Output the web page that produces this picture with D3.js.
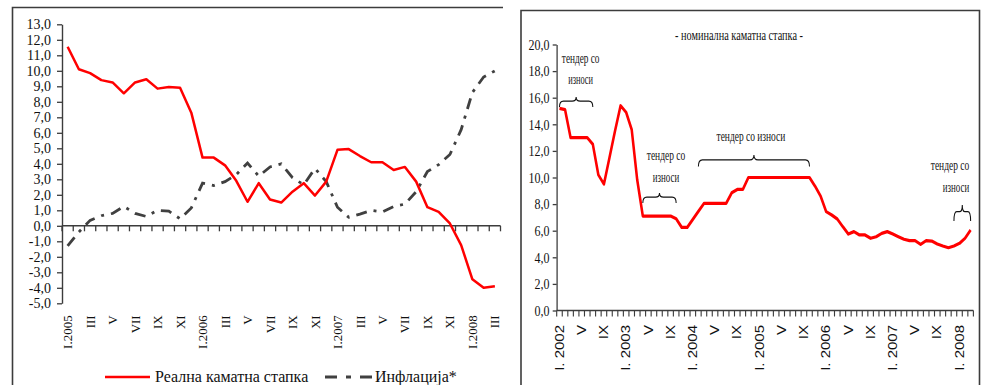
<!DOCTYPE html>
<html><head><meta charset="utf-8">
<script src="https://cdn.jsdelivr.net/npm/d3@7/dist/d3.min.js"></script>
<style>
html,body{margin:0;padding:0;background:#fff;}
svg{display:block;}
</style></head>
<body>
<svg id="chart" width="986" height="385"></svg>
<script>
// ---------------- DATA ----------------
// Left chart: months I.2005 – III.2008
const leftCategories = [
  "I.2005","II.2005","III.2005","IV.2005","V.2005","VI.2005","VII.2005","VIII.2005","IX.2005","X.2005","XI.2005","XII.2005",
  "I.2006","II.2006","III.2006","IV.2006","V.2006","VI.2006","VII.2006","VIII.2006","IX.2006","X.2006","XI.2006","XII.2006",
  "I.2007","II.2007","III.2007","IV.2007","V.2007","VI.2007","VII.2007","VIII.2007","IX.2007","X.2007","XI.2007","XII.2007",
  "I.2008","II.2008","III.2008"
];
const leftTickLabels = ["I.2005","III","V","VII","IX","XI","I.2006","III","V","VII","IX","XI",
  "I.2007","III","V","VII","IX","XI","I.2008","III"];
const realRate = [
  11.55, 10.1, 9.85, 9.4, 9.25, 8.55, 9.25, 9.45, 8.85, 8.95, 8.9, 7.3,
  4.4, 4.4, 3.9, 2.9, 1.55, 2.75, 1.7, 1.5, 2.2, 2.75, 1.95, 2.85,
  4.9, 4.95, 4.5, 4.1, 4.1, 3.6, 3.8, 2.85, 1.2, 0.9, 0.15, -1.25,
  -3.45, -4.0, -3.9
];
const inflation = [
  -1.3, -0.4, 0.35, 0.65, 0.8, 1.25, 0.8, 0.6, 1.0, 0.95, 0.45, 1.15,
  2.75, 2.6, 2.85, 3.3, 4.05, 3.2, 3.8, 4.0, 3.1, 2.65, 3.7, 2.85,
  1.2, 0.55, 0.75, 1.0, 0.9, 1.25, 1.4, 2.2, 3.5, 3.95, 4.6, 6.2,
  8.6, 9.6, 10.0
];
const leftYTicks = [-5,-4,-3,-2,-1,0,1,2,3,4,5,6,7,8,9,10,11,12,13];
const leftSeriesNames = ["Реална каматна стапка", "Инфлација*"];

// Right chart: months I.2002 – III.2008
const rightCategories = [
  "I.2002","II.2002","III.2002","IV.2002","V.2002","VI.2002","VII.2002","VIII.2002","IX.2002","X.2002","XI.2002","XII.2002",
  "I.2003","II.2003","III.2003","IV.2003","V.2003","VI.2003","VII.2003","VIII.2003","IX.2003","X.2003","XI.2003","XII.2003",
  "I.2004","II.2004","III.2004","IV.2004","V.2004","VI.2004","VII.2004","VIII.2004","IX.2004","X.2004","XI.2004","XII.2004",
  "I.2005","II.2005","III.2005","IV.2005","V.2005","VI.2005","VII.2005","VIII.2005","IX.2005","X.2005","XI.2005","XII.2005",
  "I.2006","II.2006","III.2006","IV.2006","V.2006","VI.2006","VII.2006","VIII.2006","IX.2006","X.2006","XI.2006","XII.2006",
  "I.2007","II.2007","III.2007","IV.2007","V.2007","VI.2007","VII.2007","VIII.2007","IX.2007","X.2007","XI.2007","XII.2007",
  "I.2008","II.2008","III.2008"
];
const rightTickLabels = ["I. 2002","V","IX","I. 2003","V","IX","I. 2004","V","IX","I. 2005","V","IX",
  "I. 2006","V","IX","I. 2007","V","IX","I. 2008"];
const nominalRate = [
  15.2, 15.1, 13.0, 13.0, 13.0, 13.0, 12.5, 10.2, 9.5, 11.5, 13.5, 15.4,
  14.9, 13.6, 9.8, 7.1, 7.1, 7.1, 7.1, 7.1, 7.1, 6.9, 6.25, 6.25,
  6.85, 7.45, 8.05, 8.05, 8.05, 8.05, 8.05, 8.85, 9.1, 9.1, 10.0, 10.0,
  10.0, 10.0, 10.0, 10.0, 10.0, 10.0, 10.0, 10.0, 10.0, 10.0, 9.35, 8.6,
  7.43, 7.18, 6.88, 6.3, 5.75, 5.93, 5.68, 5.68, 5.43, 5.55, 5.8, 5.93,
  5.75, 5.55, 5.36, 5.25, 5.25, 4.97, 5.25, 5.22, 5.0, 4.85, 4.72, 4.85,
  5.05, 5.43, 6.05
];
const rightYTicks = [0,2,4,6,8,10,12,14,16,18,20];
const rightTitle = "- номинална каматна стапка -";
const tenderAnnotations = [
  {from: "I.2002",  to: "VII.2002", lines: ["тендер со", "износи"]},
  {from: "IV.2003", to: "X.2003",   lines: ["тендер со", "износи"]},
  {from: "II.2004", to: "X.2005",   lines: ["тендер со износи"]},
  {from: "XII.2007",to: "III.2008", lines: ["тендер со", "износи"]}
];

// ---------------- LAYOUT ----------------
const svg = d3.select("#chart");
const AX = "#3c3c3c";
const SERIF = "'Liberation Serif','Times New Roman',serif";
const SANS = "'Liberation Sans',Arial,sans-serif";
const fmt = d => d3.format(".1f")(d).replace(".", ",").replace("\u2212", "-");

// panel frames
svg.append("path").attr("d", "M12.5,392V7.5H503")
  .attr("fill", "none").attr("stroke", AX).attr("stroke-width", 1.6);
svg.append("path").attr("d", "M521,392V10.5H979.5V392")
  .attr("fill", "none").attr("stroke", AX).attr("stroke-width", 1.6);

// ======== LEFT CHART ========
const xL = d3.scaleBand().domain(leftCategories).range([62, 500.5]).padding(0);
const yL = d3.scaleLinear().domain([-5, 13]).range([303.3, 24.3]);
const bwL = xL.bandwidth();
const gL = svg.append("g");

const yAxL = gL.append("g").attr("transform", "translate(62,0)")
  .call(d3.axisLeft(yL).tickValues(leftYTicks).tickFormat(fmt).tickSize(5).tickSizeOuter(0).tickPadding(6));
yAxL.select(".domain").attr("stroke", AX).attr("stroke-width", 1.4);
yAxL.selectAll(".tick line").attr("stroke", AX).attr("stroke-width", 1.3);
yAxL.selectAll("text").attr("font-family", SERIF).attr("font-size", 14).attr("fill", "#111");

// x axis along zero
const y0L = yL(0);
gL.append("line").attr("x1", xL.range()[0]).attr("x2", xL.range()[1])
  .attr("y1", y0L).attr("y2", y0L).attr("stroke", AX).attr("stroke-width", 1.4);
const bndL = leftCategories.map(c => xL(c)).concat([xL.range()[1]]);
gL.selectAll(".xtickL").data(bndL).join("line")
  .attr("x1", d => d).attr("x2", d => d).attr("y1", y0L).attr("y2", y0L + 5.5)
  .attr("stroke", AX).attr("stroke-width", 1.3);
gL.selectAll(".xlabL").data(leftTickLabels).join("text")
  .attr("transform", (d, i) => `translate(${xL(leftCategories[i * 2]) + bwL / 2},${yL(-5) + 12}) rotate(-90)`)
  .attr("text-anchor", "end").attr("dy", "0.35em")
  .attr("font-family", SERIF).attr("font-size", 13).attr("fill", "#111")
  .text(d => d);

const lineL = d3.line().x((d, i) => xL(leftCategories[i]) + bwL / 2).y(d => yL(d));
gL.append("path").datum(inflation).attr("d", lineL)
  .attr("fill", "none").attr("stroke", "#404040").attr("stroke-width", 2.8)
  .attr("stroke-dasharray", "11,7,3,7");
gL.append("path").datum(realRate).attr("d", lineL)
  .attr("fill", "none").attr("stroke", "#ff0000").attr("stroke-width", 2.5)
  .attr("stroke-linejoin", "round");

// legend
gL.append("line").attr("x1", 105).attr("x2", 150).attr("y1", 377).attr("y2", 377)
  .attr("stroke", "#ff0000").attr("stroke-width", 2.5);
gL.append("text").attr("x", 155).attr("y", 382).attr("font-family", SERIF).attr("font-size", 16)
  .attr("fill", "#111").text(leftSeriesNames[0]);
gL.append("line").attr("x1", 325).attr("x2", 372).attr("y1", 377).attr("y2", 377)
  .attr("stroke", "#404040").attr("stroke-width", 3).attr("stroke-dasharray", "12,9,5,9");
gL.append("text").attr("x", 375).attr("y", 382).attr("font-family", SERIF).attr("font-size", 16)
  .attr("fill", "#111").text(leftSeriesNames[1]);

// ======== RIGHT CHART (horizontally condensed) ========
const SX = 0.8;
const gR = svg.append("g").attr("transform", `scale(${SX},1)`);
const xR = d3.scaleBand().domain(rightCategories).range([556.7 / SX, 973.4 / SX]).padding(0);
const yR = d3.scaleLinear().domain([0, 20]).range([310.5, 44.5]);
const bwR = xR.bandwidth();

const yAxR = gR.append("g").attr("transform", `translate(${556.7 / SX},0)`)
  .call(d3.axisLeft(yR).tickValues(rightYTicks).tickFormat(fmt).tickSize(5).tickSizeOuter(0).tickPadding(4));
yAxR.select(".domain").attr("stroke", AX).attr("stroke-width", 1.6);
yAxR.selectAll(".tick line").attr("stroke", AX).attr("stroke-width", 1.3);
yAxR.selectAll("text").attr("font-family", SERIF).attr("font-size", 15).attr("fill", "#111");

const y0R = yR(0);
gR.append("line").attr("x1", xR.range()[0]).attr("x2", xR.range()[1])
  .attr("y1", y0R).attr("y2", y0R).attr("stroke", AX).attr("stroke-width", 1.6);
const bndR = rightCategories.map(c => xR(c)).concat([xR.range()[1]]);
gR.selectAll(".xtickR").data(bndR).join("line")
  .attr("x1", d => d).attr("x2", d => d).attr("y1", y0R).attr("y2", y0R + 6)
  .attr("stroke", AX).attr("stroke-width", 1.4);
gR.selectAll(".xlabR").data(rightTickLabels).join("text")
  .attr("transform", (d, i) => `translate(${xR(rightCategories[i * 4]) + bwR / 2},${y0R + 14.5}) rotate(-90)`)
  .attr("text-anchor", "end").attr("dy", "0.35em")
  .attr("font-family", SANS).attr("font-size", 15).attr("fill", "#111")
  .text(d => d);

const lineR = d3.line().x((d, i) => xR(rightCategories[i]) + bwR / 2).y(d => yR(d));
gR.append("path").datum(nominalRate).attr("d", lineR)
  .attr("fill", "none").attr("stroke", "#ff0000").attr("stroke-width", 3.2)
  .attr("stroke-linejoin", "round");

// title
gR.append("text").attr("x", 739 / SX).attr("y", 40).attr("text-anchor", "middle")
  .attr("font-family", SERIF).attr("font-size", 14).attr("fill", "#111")
  .attr("textLength", 160).attr("lengthAdjust", "spacingAndGlyphs")
  .text(rightTitle);

// annotations (braces + text)
const annLayout = [
  {tip: 97,  end: 107,   dx: [4.5, 4.5],   base: [63, 84],   w: [47, 31]},
  {tip: 193, end: 203,   dx: [6.5, 6.5],   base: [160, 182], w: [48, 33]},
  {tip: 155, end: 166.5, dx: [-3],         base: [141],      w: [86]},
  {tip: 205, end: 221,   dx: [-12.3, -6.3],base: [170, 192], w: [48, 33]}
];
function bracePath(x0, x1, yt, yb) {
  const xc = (x0 + x1) / 2;
  const ym = yt + (yb - yt) * 0.42;
  const r = Math.min(4 / SX, (x1 - x0) / 6);
  return `M${x0},${yb}Q${x0},${ym} ${x0 + r},${ym}L${xc - r},${ym}Q${xc},${ym} ${xc},${yt}` +
         `Q${xc},${ym} ${xc + r},${ym}L${x1 - r},${ym}Q${x1},${ym} ${x1},${yb}`;
}
tenderAnnotations.forEach((a, k) => {
  const L = annLayout[k];
  const x0 = xR(a.from) + bwR / 2, x1 = xR(a.to) + bwR / 2;
  const xc = (x0 + x1) / 2;
  gR.append("path").attr("d", bracePath(x0, x1, L.tip, L.end))
    .attr("fill", "none").attr("stroke", "#111").attr("stroke-width", 1.3);
  a.lines.forEach((t, j) => {
    gR.append("text").attr("x", xc + L.dx[j] / SX).attr("y", L.base[j]).attr("text-anchor", "middle")
      .attr("font-family", SERIF).attr("font-size", 14).attr("fill", "#111")
      .attr("textLength", L.w[j]).attr("lengthAdjust", "spacingAndGlyphs")
      .text(t);
  });
});
</script>
</body></html>
